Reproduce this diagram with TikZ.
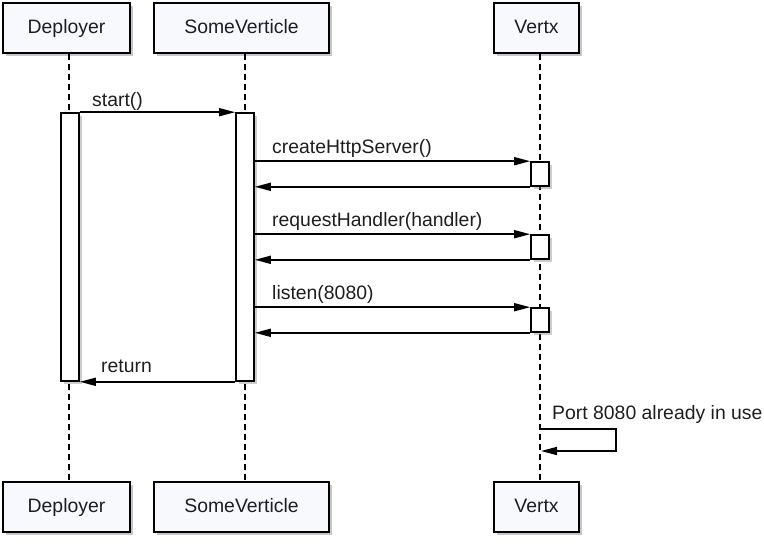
\documentclass[tikz,border=0pt]{standalone}
\usepackage{fontspec}
\setmainfont{Liberation Sans}
\usepackage{xcolor}
\usetikzlibrary{arrows.meta,shadows}
\definecolor{boxfill}{RGB}{248,249,252}
\definecolor{inkgray}{RGB}{30,30,30}

\begin{document}
\begin{tikzpicture}[x=1pt, y=-1pt,
    every node/.style={font=\fontsize{19.4}{23}\selectfont, text=inkgray},
    obj/.style={draw, line width=1.6pt, fill=boxfill, minimum height=50pt, inner sep=0pt,
        text height=14pt, text depth=4pt,
        drop shadow={shadow xshift=3pt, shadow yshift=-3pt, opacity=0.45, fill=gray}},
    act/.style={draw, line width=1.6pt, fill=white, minimum width=18pt, inner sep=0pt,
        drop shadow={shadow xshift=3pt, shadow yshift=-3pt, opacity=0.4, fill=gray}},
    life/.style={line width=1.6pt, dash pattern=on 6pt off 4pt},
    msg/.style={-{Triangle[length=16pt, width=8pt]}, line width=1.6pt},
    lbl/.style={anchor=base west, inner sep=0pt}]
                \useasboundingbox (0,0) rectangle (764,547);

                % Participants
                \node[obj, minimum width=127pt] (dep) at (66.5, 28) {Deployer};
                \node[obj, minimum width=175pt] (sv) at (241.5, 28) {SomeVerticle};
                \node[obj, minimum width=85pt] (vx) at (536.5, 28) {Vertx};
                \node[obj, minimum width=127pt] (depB) at (66.5, 507) {Deployer};
                \node[obj, minimum width=175pt] (svB) at (241.5, 507) {SomeVerticle};
                \node[obj, minimum width=85pt] (vxB) at (536.5, 507) {Vertx};

                % Lifelines
                \draw[life] ([xshift=2.5pt]dep.south) -- ([xshift=2.5pt]depB.north);
                \draw[life] ([xshift=3.5pt]sv.south) -- ([xshift=3.5pt]svB.north);
                \draw[life] ([xshift=3.5pt]vx.south) -- ([xshift=3.5pt]vxB.north);

                % Activations
                \node[act, minimum height=268pt] (depAct) at (70, 247) {};
                \node[act, minimum height=268pt] (svAct) at (245, 247) {};
                \node[act, minimum height=24pt] (vxAct1) at (540, 174) {};
                \node[act, minimum height=24pt] (vxAct2) at (540, 247) {};
                \node[act, minimum height=24pt] (vxAct3) at (540, 320) {};

                % Calls
                \draw[msg] (depAct.north east) -- (svAct.north west);
                \node[lbl] (startLbl) at (92, 106) {start()};

                \draw[msg] (svAct.east |- vxAct1.north west) -- (vxAct1.north west);
                \draw[msg] (vxAct1.south west) -- (svAct.east |- vxAct1.south west);
                \node[lbl] (createLbl) at (272, 153) {createHttpServer()};

                \draw[msg] (svAct.east |- vxAct2.north west) -- (vxAct2.north west);
                \draw[msg] (vxAct2.south west) -- (svAct.east |- vxAct2.south west);
                \node[lbl] (reqLbl) at (272, 226) {requestHandler(handler)};

                \draw[msg] (svAct.east |- vxAct3.north west) -- (vxAct3.north west);
                \draw[msg] (vxAct3.south west) -- (svAct.east |- vxAct3.south west);
                \node[lbl] (listenLbl) at (272, 299) {listen(8080)};

                % Return
                \draw[msg] (svAct.south west) -- (depAct.south east);
                \node[lbl] (retLbl) at (101, 372) {return};

                % Self message
                \coordinate (selfA) at (540, 429);
                \coordinate (selfB) at (541, 451);
                \draw[msg] (selfA) -- ++(76,0) |- (selfB);
                \node[lbl] (portLbl) at (552, 419) {Port 8080 already in use};
            \end{tikzpicture}
\end{document}
